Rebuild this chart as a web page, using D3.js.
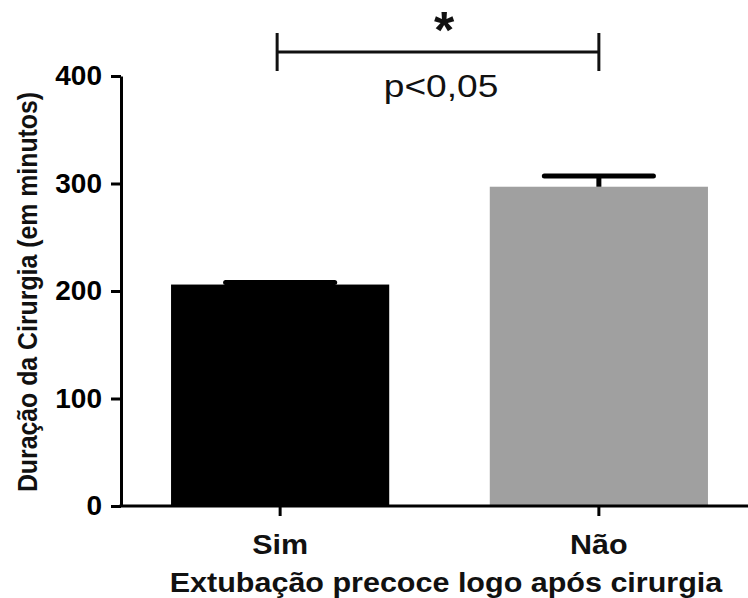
<!DOCTYPE html>
<html>
<head>
<meta charset="utf-8">
<script src="https://cdn.jsdelivr.net/npm/d3@7"></script>
<style>
  body { margin: 0; background: #fff; }
  text { font-family: "Liberation Sans", Arial, sans-serif; }
</style>
</head>
<body>
<div id="chart"></div>
<script>
// data
var categories = ["Sim", "Não"];
var means = [206, 297];
var errors = [2, 10];
var barColors = ["#000000", "#a0a0a0"];
var yTicks = [0, 100, 200, 300, 400];

var W = 748, H = 598;

var svg = d3.select("#chart")
  .append("svg")
    .attr("width", W)
    .attr("height", H);

// scales
var y = d3.scaleLinear()
  .domain([0, 400])
  .range([506, 76]);

var x = d3.scaleBand()
  .domain(categories)
  .range([121, 758])
  .paddingInner(0.3155)
  .paddingOuter(0.157);

// bars
svg.selectAll(".bar")
  .data(categories)
  .enter()
  .append("rect")
    .attr("class", "bar")
    .attr("x", d => x(d))
    .attr("y", (d, i) => y(means[i]))
    .attr("width", x.bandwidth())
    .attr("height", (d, i) => y(0) - y(means[i]))
    .style("fill", (d, i) => barColors[i]);

// error bars (upper only)
var capW = x.bandwidth() / 2;
categories.forEach(function (c, i) {
  var cx = x(c) + x.bandwidth() / 2;
  svg.append("line")
    .attr("x1", cx).attr("x2", cx)
    .attr("y1", y(means[i])).attr("y2", y(means[i] + errors[i]))
    .attr("stroke", "#000").attr("stroke-width", 5);
  svg.append("line")
    .attr("x1", cx - capW / 2).attr("x2", cx + capW / 2)
    .attr("y1", y(means[i] + errors[i])).attr("y2", y(means[i] + errors[i]))
    .attr("stroke", "#000").attr("stroke-width", 5)
    .attr("stroke-linecap", "round");
});

// y axis
var yAxis = svg.append("g")
  .attr("transform", "translate(121,0)")
  .call(d3.axisLeft(y).tickValues(yTicks).tickSize(10).tickSizeOuter(0).tickPadding(9));
yAxis.select(".domain").attr("stroke-width", 3);
yAxis.selectAll(".tick line").attr("stroke-width", 3);
yAxis.selectAll(".tick text")
  .style("font-size", "28px")
  .style("font-weight", "bold")
  .attr("fill", "#000");

// x axis
var xAxis = svg.append("g")
  .attr("transform", "translate(0,506)")
  .call(d3.axisBottom(x).tickSize(10).tickSizeOuter(0).tickPadding(8));
xAxis.select(".domain").remove();
xAxis.selectAll(".tick line").attr("stroke-width", 3);
xAxis.selectAll(".tick text").remove();
xAxis.selectAll(".tick")
  .append("g")
    .attr("transform", "translate(0,48) scale(1.09,1)")
  .append("text")
    .attr("text-anchor", "middle")
    .style("font-size", "28px")
    .style("font-weight", "bold")
    .attr("fill", "#111")
    .text(d => d);
svg.append("line")
  .attr("x1", 119.5).attr("x2", W)
  .attr("y1", 506).attr("y2", 506)
  .attr("stroke", "#000").attr("stroke-width", 3);

// axis titles
svg.append("g")
  .attr("transform", "translate(37,292) rotate(-90) scale(0.92,1)")
  .append("text")
    .attr("text-anchor", "middle")
    .style("font-size", "27px")
    .style("font-weight", "bold")
    .attr("fill", "#111")
    .text("Duração da Cirurgia (em minutos)");

svg.append("g")
  .attr("transform", "translate(446,592) scale(1.09,1)")
  .append("text")
    .attr("text-anchor", "middle")
    .style("font-size", "28px")
    .style("font-weight", "bold")
    .attr("fill", "#111")
    .text("Extubação precoce logo após cirurgia");

// significance bracket
var bx1 = x("Sim") + x.bandwidth() / 2 - 3;
var bx2 = x("Não") + x.bandwidth() / 2;
var by = 52;
svg.append("line")
  .attr("x1", bx1).attr("x2", bx2).attr("y1", by).attr("y2", by)
  .attr("stroke", "#111").attr("stroke-width", 3);
[bx1, bx2].forEach(function (bx) {
  svg.append("line")
    .attr("x1", bx).attr("x2", bx).attr("y1", 33).attr("y2", 71)
    .attr("stroke", "#111").attr("stroke-width", 3);
});
svg.append("text")
  .attr("x", 444)
  .attr("y", 48)
  .attr("text-anchor", "middle")
  .style("font-size", "52px")
  .style("font-weight", "bold")
  .attr("fill", "#111")
  .text("*");
svg.append("g")
  .attr("transform", "translate(441,97) scale(1.16,1)")
  .append("text")
    .attr("text-anchor", "middle")
    .style("font-size", "32px")
    .attr("fill", "#111")
    .text("p<0,05");
</script>
</body>
</html>
